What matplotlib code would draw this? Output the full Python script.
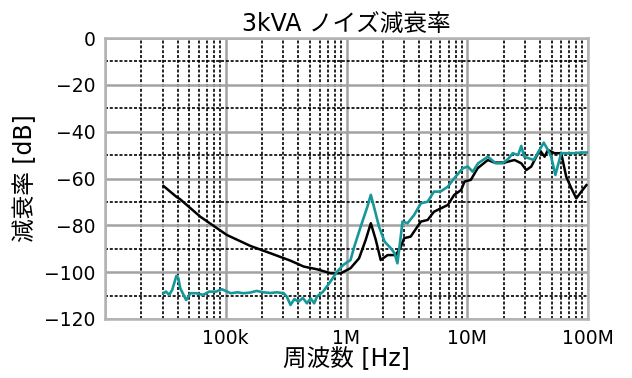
import numpy as np
import matplotlib
matplotlib.use("Agg")
import matplotlib.pyplot as plt
from matplotlib.ticker import FixedLocator, NullFormatter

plt.rcParams['font.family'] = ['DejaVu Sans', 'Noto Sans CJK JP']

# Attenuation without the filter (black) and with the filter (teal)
freq_a_hz = [30.5e3, 39e3, 42e3, 61.5e3, 102e3, 160e3, 234e3, 344e3, 442e3, 573e3,
             741e3, 894e3, 1.08e6, 1.27e6, 1.44e6, 1.59e6, 1.75e6, 1.92e6, 2.19e6,
             2.56e6, 2.82e6, 3.0e6, 3.4e6, 4.13e6, 4.7e6, 5.3e6, 5.7e6, 6.9e6, 7.8e6,
             8.9e6, 9.5e6, 10.7e6, 12.2e6, 14.8e6, 16.8e6, 20.3e6, 24.6e6, 28e6,
             30.8e6, 33.9e6, 39.8e6, 43.7e6, 46.6e6, 52.8e6, 60e6, 66e6, 72.8e6,
             80e6, 88e6, 97e6]
atten_a_db = [-63.2, -67.8, -68.9, -76.3, -84.1, -88.8, -91.9, -95.1, -97.6, -98.8,
              -100.5, -100.5, -98.3, -94.1, -86.3, -79.1, -86.3, -94.8, -92.7,
              -92.7, -89.1, -85.5, -84.8, -78.4, -77.7, -74.2, -73.4, -71.3, -67.0,
              -64.9, -61.3, -60.6, -55.6, -52.1, -53.2, -53.2, -52.1, -53.5,
              -56.4, -54.9, -47.8, -50.7, -47.8, -49.2, -49.2, -59.2, -64.2,
              -68.5, -65.6, -62.8]

freq_b_hz = [30.5e3, 32e3, 34e3, 36e3, 39e3, 40.5e3, 42e3, 47e3, 51e3, 57e3, 65e3,
             73e3, 83e3, 93e3, 110e3, 125e3, 140e3, 160e3, 180e3, 205e3, 235e3,
             265e3, 302e3, 320e3, 344e3, 370e3, 400e3, 435e3, 470e3, 505e3, 540e3,
             570e3, 640e3, 720e3, 836e3, 940e3, 1.08e6, 1.16e6, 1.31e6, 1.49e6,
             1.59e6, 1.66e6, 1.86e6, 2.07e6, 2.33e6, 2.5e6, 2.64e6, 2.75e6, 2.91e6,
             3.2e6, 3.63e6, 4.13e6, 4.7e6, 5.3e6, 6.0e6, 6.9e6, 7.8e6, 9.2e6, 10.1e6,
             11.1e6, 12.3e6, 14.8e6, 17.2e6, 19.5e6, 21.7e6, 23.8e6, 26.4e6, 28e6,
             29.6e6, 32.5e6, 35.5e6, 39e6, 43e6, 46.6e6, 49.5e6, 53.7e6, 56e6, 60e6,
             68e6, 77e6, 88e6, 100e6]
atten_b_db = [-109.0, -108.3, -109.7, -107.6, -101.6, -102.6, -106.9, -111.9, -109.0,
              -109.0, -109.7, -108.3, -108.3, -107.3, -109.0, -108.6, -109.0, -108.7,
              -108.0, -108.6, -108.9, -108.6, -109.0, -110.4, -114.0, -111.5, -112.6,
              -111.0, -113.3, -111.2, -113.3, -110.4, -108.3, -104.7, -99.8, -96.9,
              -94.8, -89.1, -80.6, -72.0, -67.0, -70.6, -80.6, -87.0, -89.8, -91.9,
              -96.2, -89.1, -78.4, -79.1, -75.6, -70.6, -69.9, -65.6, -65.6, -63.5,
              -59.9, -55.6, -54.9, -57.1, -53.5, -50.7, -53.5, -53.5, -51.8, -49.2,
              -50.0, -46.1, -50.7, -51.4, -52.1, -48.5, -44.7, -47.8, -50.7, -58.5,
              -54.9, -49.2, -49.2, -49.2, -48.9, -48.9]

x_tick_values = [1e5, 1e6, 1e7, 1e8]
x_tick_labels = ['100k', '1M', '10M', '100M']
y_tick_values = [0, -20, -40, -60, -80, -100, -120]
y_tick_labels = ['0', '−20', '−40', '−60', '−80', '−100', '−120']

title_text = '3kVA ノイズ減衰率'
x_label = '周波数 [Hz]'
y_label = '減衰率 [dB]'

fig = plt.figure(figsize=(6.32, 3.78), dpi=100)
ax = fig.add_axes([105 / 632, 1 - 319 / 378, 483 / 632, 281 / 378])

ax.set_xscale('log')
ax.set_xlim(1e4, 1e8)
ax.set_ylim(-120, 0)

# major grid: solid grey; minor grid: dotted black
minor_x = [m * 10 ** d for d in range(4, 8) for m in range(2, 10)]
ax.set_xticks([1e4] + x_tick_values, [''] + x_tick_labels)
ax.xaxis.set_minor_locator(FixedLocator(minor_x))
ax.xaxis.set_minor_formatter(NullFormatter())
ax.set_yticks(y_tick_values, y_tick_labels)
ax.yaxis.set_minor_locator(FixedLocator([-10, -30, -50, -70, -90, -110]))

ax.grid(which='major', color='#a3a3a3', linewidth=1.8, linestyle='-')
ax.grid(which='minor', color='black', linewidth=1.2, linestyle=(0, (1.8, 1.1)))
ax.set_axisbelow(True)

ax.tick_params(which='both', length=0)
ax.tick_params(axis='y', pad=7, labelsize=13.5)
ax.tick_params(axis='x', pad=7, labelsize=13.5)

for spine in ax.spines.values():
    spine.set_color('#b3b3b3')
    spine.set_linewidth(1.8)

ax.plot(freq_a_hz, atten_a_db, color='black', linewidth=1.8, zorder=3)
ax.plot(freq_b_hz, atten_b_db, color='#16989a', linewidth=1.9, zorder=4)

ax.set_title(title_text, fontsize=17, pad=5)
ax.set_xlabel(x_label, fontsize=17)
ax.set_ylabel(y_label, fontsize=17)
ax.xaxis.set_label_coords(0.5, -0.1)
ax.yaxis.set_label_coords(-0.14, 0.5)

fig.savefig('out.png', dpi=100)
